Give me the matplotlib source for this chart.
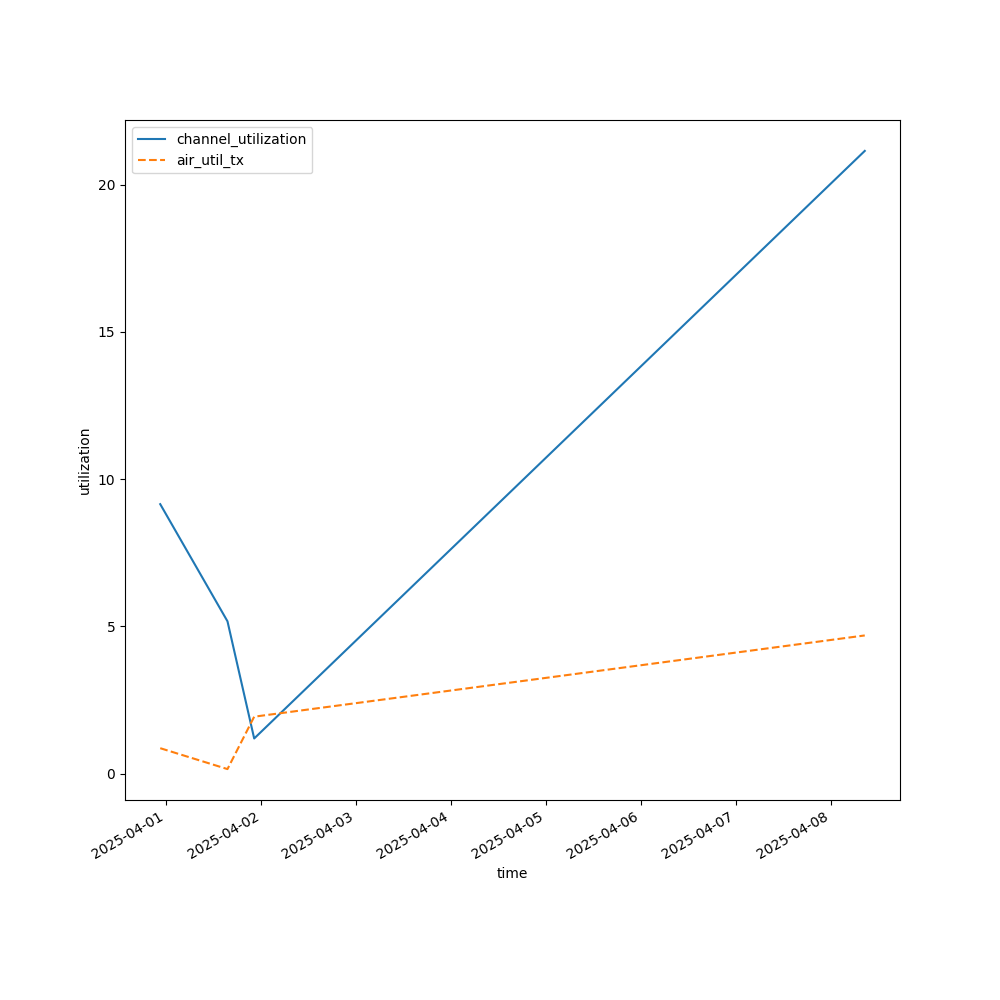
import pandas as pd
import matplotlib
matplotlib.use('Agg')
import matplotlib.pyplot as plt

times = pd.to_datetime(['2025-03-31 22:30', '2025-04-01 15:30',
                        '2025-04-01 22:15', '2025-04-08 08:35'])
channel_utilization = [9.15, 5.17, 1.19, 21.15]
air_util_tx = [0.86, 0.15, 1.93, 4.69]

fig, ax = plt.subplots(figsize=(10, 10), dpi=100)
ax.plot(times, channel_utilization, label='channel_utilization')
ax.plot(times, air_util_tx, '--', label='air_util_tx')
ax.set_xlabel('time')
ax.set_ylabel('utilization')
ax.legend(loc='upper left')
fig.autofmt_xdate()
fig.savefig('out.png')
